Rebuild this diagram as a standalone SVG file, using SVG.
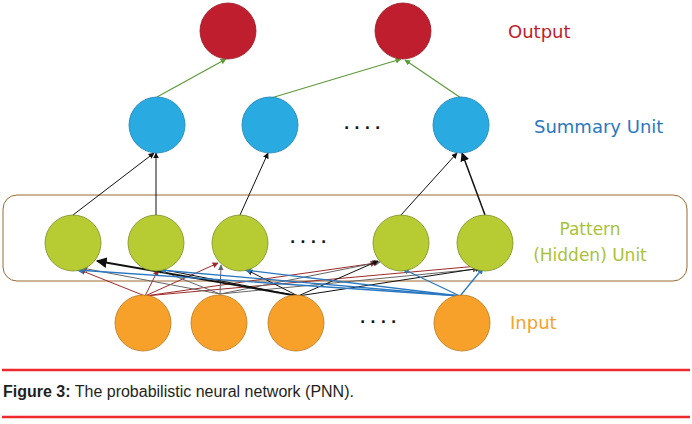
<svg xmlns="http://www.w3.org/2000/svg" width="692" height="424" viewBox="0 0 692 424">
<style>
.lbl{font-family:"DejaVu Sans",sans-serif;font-size:18px}
.dots{font-family:"DejaVu Sans",sans-serif;font-size:14px;font-weight:bold;fill:#111;letter-spacing:5px}
.out{fill:#BE1E2D;stroke:#9A1A24;stroke-width:0.8}
.sum{fill:#29ABE2;stroke:#1C82B8;stroke-width:0.8}
.pat{fill:#B7CB32;stroke:#7E8E26;stroke-width:0.8}
.inp{fill:#F7A12A;stroke:#B97A1F;stroke-width:0.8}
.c{fill:none}
.g{stroke:#5E9A3A;stroke-width:1.2}
.k{stroke:#111;stroke-width:1}
.r{stroke:#9E2A2B;stroke-width:1}
.y{stroke:#666;stroke-width:1}
.b{stroke:#2A78C0;stroke-width:1.3}
</style>
<defs>
<marker id="ag" viewBox="0 0 10 10" refX="9" refY="5" markerWidth="5" markerHeight="5" orient="auto"><path d="M0,0L10,5L0,10z" fill="#5E9A3A"/></marker>
<marker id="ak" viewBox="0 0 10 10" refX="9" refY="5" markerWidth="6" markerHeight="6" orient="auto"><path d="M0,0L10,5L0,10z" fill="#111"/></marker>
<marker id="ar" viewBox="0 0 10 10" refX="9" refY="5" markerWidth="6" markerHeight="6" orient="auto"><path d="M0,0L10,5L0,10z" fill="#9E2A2B"/></marker>
<marker id="ay" viewBox="0 0 10 10" refX="9" refY="5" markerWidth="6" markerHeight="6" orient="auto"><path d="M0,0L10,5L0,10z" fill="#666"/></marker>
<marker id="ab" viewBox="0 0 10 10" refX="9" refY="5" markerWidth="5" markerHeight="5" orient="auto"><path d="M0,0L10,5L0,10z" fill="#2A78C0"/></marker>
</defs>
<rect width="692" height="424" fill="#fff"/>
<g id="pattern-box">
<rect x="3" y="195" width="684" height="86" rx="14" ry="14" fill="none" stroke="#9B6A35" stroke-width="1"/>
</g>
<g id="connectors">
<line class="c g" x1="157" y1="97" x2="226" y2="59" marker-end="url(#ag)"/>
<line class="c g" x1="271" y1="98" x2="401" y2="59" marker-end="url(#ag)"/>
<line class="c g" x1="461" y1="98" x2="405" y2="60" marker-end="url(#ag)"/>
<line class="c k" x1="73" y1="215" x2="154" y2="153" marker-end="url(#ak)"/>
<line class="c k" x1="156" y1="215" x2="156" y2="153" marker-end="url(#ak)"/>
<line class="c k" x1="240" y1="215" x2="268" y2="153" marker-end="url(#ak)"/>
<line class="c k" x1="401" y1="215" x2="457" y2="153" marker-end="url(#ak)"/>
<line class="c k" x1="485" y1="215" x2="462" y2="153" style="stroke-width:1.5" marker-end="url(#ak)"/>
<line class="c r" x1="145" y1="296" x2="80" y2="270" marker-end="url(#ar)"/>
<line class="c r" x1="145" y1="296" x2="158" y2="270" marker-end="url(#ar)"/>
<line class="c r" x1="145" y1="296" x2="218" y2="263" marker-end="url(#ar)"/>
<line class="c r" x1="145" y1="296" x2="376" y2="263" marker-end="url(#ar)"/>
<line class="c r" x1="145" y1="296" x2="478" y2="266" marker-end="url(#ar)"/>
<line class="c y" x1="220" y1="294" x2="82" y2="268" marker-end="url(#ay)"/>
<line class="c y" x1="220" y1="294" x2="157" y2="269" marker-end="url(#ay)"/>
<line class="c y" x1="220" y1="294" x2="221" y2="265" marker-end="url(#ay)"/>
<line class="c y" x1="220" y1="294" x2="380" y2="262" marker-end="url(#ay)"/>
<line class="c y" x1="220" y1="294" x2="478" y2="269" marker-end="url(#ay)"/>
<line class="c k" x1="298" y1="296" x2="97" y2="261" style="stroke-width:1.8" marker-end="url(#ak)"/>
<line class="c k" x1="298" y1="296" x2="160" y2="269" marker-end="url(#ak)"/>
<line class="c k" x1="298" y1="296" x2="247" y2="270" marker-end="url(#ak)"/>
<line class="c k" x1="298" y1="296" x2="378" y2="261" marker-end="url(#ak)"/>
<line class="c k" x1="298" y1="296" x2="481" y2="268" marker-end="url(#ak)"/>
<line class="c b" x1="460" y1="296" x2="77" y2="270" marker-end="url(#ab)"/>
<line class="c b" x1="460" y1="296" x2="160" y2="270" marker-end="url(#ab)"/>
<line class="c b" x1="460" y1="296" x2="245" y2="270" marker-end="url(#ab)"/>
<line class="c b" x1="460" y1="296" x2="403" y2="269" marker-end="url(#ab)"/>
<line class="c b" x1="460" y1="296" x2="483" y2="268" marker-end="url(#ab)"/>
</g>
<g id="output-1"><circle class="out" cx="228" cy="31" r="28"/></g>
<g id="output-2"><circle class="out" cx="403" cy="31" r="28"/></g>
<g id="summary-1"><circle class="sum" cx="157" cy="125" r="28"/></g>
<g id="summary-2"><circle class="sum" cx="270" cy="125" r="28"/></g>
<g id="summary-3"><circle class="sum" cx="461" cy="125" r="28"/></g>
<g id="pattern-1"><circle class="pat" cx="73" cy="243" r="28"/></g>
<g id="pattern-2"><circle class="pat" cx="156" cy="243" r="28"/></g>
<g id="pattern-3"><circle class="pat" cx="240" cy="243" r="28"/></g>
<g id="pattern-4"><circle class="pat" cx="401" cy="243" r="28"/></g>
<g id="pattern-5"><circle class="pat" cx="485" cy="243" r="28"/></g>
<g id="input-1"><circle class="inp" cx="143" cy="323" r="28"/></g>
<g id="input-2"><circle class="inp" cx="219" cy="323" r="28"/></g>
<g id="input-3"><circle class="inp" cx="296" cy="323" r="28"/></g>
<g id="input-4"><circle class="inp" cx="462" cy="323" r="28"/></g>
<g id="labels">
<text class="dots" x="344" y="129">....</text>
<text class="dots" x="290" y="243">....</text>
<text class="dots" x="360" y="323">....</text>
<text class="lbl" x="508" y="38" fill="#BE1E2D">Output</text>
<text class="lbl" x="534" y="133" fill="#2B78BD">Summary Unit</text>
<text class="lbl" x="590" y="235" text-anchor="middle" fill="#A9C23A" style="font-size:17px">Pattern</text>
<text class="lbl" x="590" y="261" text-anchor="middle" fill="#A9C23A" style="font-size:17px">(Hidden) Unit</text>
<text class="lbl" x="510" y="329" fill="#F4A32A">Input</text>
</g>
<g id="caption">
<line x1="2" y1="370" x2="690" y2="370" stroke="#EE2A2F" stroke-width="2.5"/>
<line x1="2" y1="417" x2="690" y2="417" stroke="#EE2A2F" stroke-width="2.5"/>
<text x="3" y="397" font-family="'Liberation Sans',sans-serif" font-size="16" fill="#231F20"><tspan font-weight="bold">Figure 3:</tspan> The probabilistic neural network (PNN).</text>
</g>
</svg>
